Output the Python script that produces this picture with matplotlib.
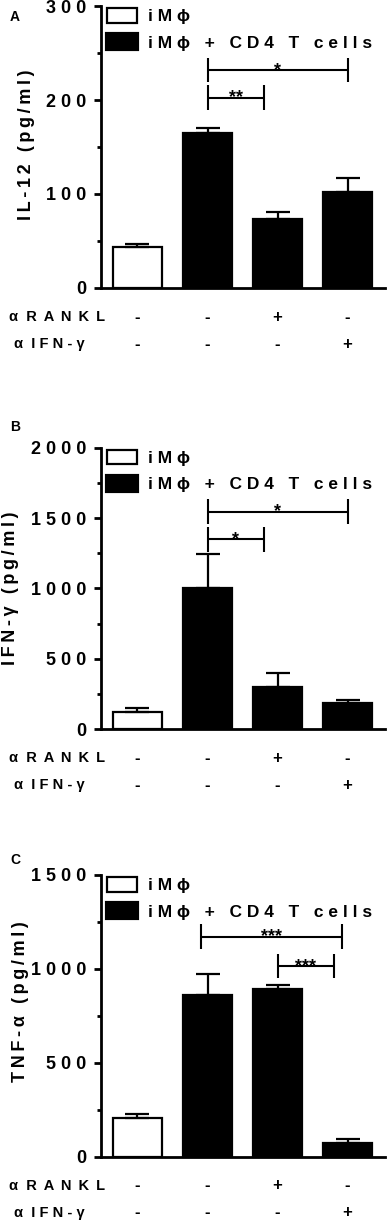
import matplotlib as mpl
mpl.use('Agg')
import matplotlib.pyplot as plt
from matplotlib.patches import Patch
from matplotlib.ticker import MultipleLocator

plt.rcParams['font.family'] = ['Liberation Sans', 'DejaVu Sans']
plt.rcParams['font.weight'] = 'bold'

# data
groups = ['iMϕ', 'iMϕ + CD4 T cells']
rankl = ['-', '-', '+', '-']
ifng = ['-', '-', '-', '+']

il12 = [44, 164.5, 73, 102.5]
il12_err = [2.5, 5.5, 8, 14]
ifn = [125, 1001, 303, 189]
ifn_err = [24, 242, 99, 19]
tnf = [208, 861, 891, 71]
tnf_err = [19, 112, 23, 25]

# significance brackets: (x1, x2, y, stars)
il12_sig = [(1.0, 3.0, 232, '*'), (1.0, 1.8, 202.5, '**')]
ifn_sig = [(1.0, 3.0, 1546, '*'), (1.0, 1.8, 1349, '*')]
tnf_sig = [(0.9, 2.92, 1172, '***'), (2.0, 2.8, 1015, '***')]


def spaced(s, sep=' '):
    return sep.join(s)


panels = [
    ('A', 'IL-12 (pg/ml)', il12, il12_err, il12_sig, 300, 100, 50,
     [0.261, 0.7649, 0.734, 0.2302], (-0.264, 0.509), 1 - 17 / 1225),
    ('B', 'IFN-γ (pg/ml)', ifn, ifn_err, ifn_sig, 2000, 500, 250,
     [0.261, 0.4047, 0.734, 0.2299], (-0.320, 0.50), 1 - 427 / 1225),
    ('C', 'TNF-α (pg/ml)', tnf, tnf_err, tnf_sig, 1500, 500, 250,
     [0.261, 0.0558, 0.734, 0.2300], (-0.282, 0.549), 1 - 860 / 1225),
]

fig = plt.figure(figsize=(3.87, 12.25), dpi=100)
x = list(range(4))
colors = ['white', 'black', 'black', 'black']

for letter, ylab, vals, errs, sig, ymax, major, minor, pos, lab_xy, let_y in panels:
    ax = fig.add_axes(pos)
    ax.bar(x, vals, width=0.7, color=colors, edgecolor='black', linewidth=1.6, zorder=2)
    ax.errorbar(x, vals, yerr=[[0] * 4, errs], fmt='none', ecolor='black',
                elinewidth=1.6, capsize=8.3, capthick=1.6, zorder=3)
    ax.set_xlim(-0.521, 3.536)
    ax.set_ylim(0, ymax)
    ax.yaxis.set_major_locator(MultipleLocator(major))
    ax.yaxis.set_minor_locator(MultipleLocator(minor))
    ticks = list(range(0, ymax + 1, major))
    ax.set_yticks(ticks)
    ax.set_yticklabels([spaced(str(t)) for t in ticks], fontsize=13, fontweight='bold')
    ax.tick_params(axis='y', which='major', length=5, width=2, pad=5.5)
    ax.tick_params(axis='y', which='minor', length=3, width=2)
    ax.set_xticks([])
    for side in ['top', 'right']:
        ax.spines[side].set_visible(False)
    for side in ['left', 'bottom']:
        ax.spines[side].set_linewidth(2)

    ax.text(lab_xy[0], lab_xy[1], spaced(ylab, '\u2009'), transform=ax.transAxes,
            rotation=90, ha='center', va='center', fontsize=13, fontweight='bold')

    # significance brackets
    h = 0.044 * ymax
    for x1, x2, y, stars in sig:
        ax.plot([x1, x2], [y, y], color='black', lw=1.5, solid_capstyle='butt')
        ax.plot([x1, x1], [y - h, y + h], color='black', lw=1.5, solid_capstyle='butt')
        ax.plot([x2, x2], [y - h, y + h], color='black', lw=1.5, solid_capstyle='butt')
        ax.annotate(stars, ((x1 + x2) / 2, y), xytext=(0, -3.4), textcoords='offset points',
                    ha='center', va='baseline', fontsize=13, fontweight='bold')

    # treatment rows
    ax.text(-0.324, -0.103, 'α  ' + spaced('RANKL', ' \u2009'), transform=ax.transAxes,
            ha='left', va='center', fontsize=10.5, fontweight='bold')
    ax.text(-0.306, -0.199, 'α  ' + spaced('IFN-γ'), transform=ax.transAxes,
            ha='left', va='center', fontsize=10.5, fontweight='bold')
    for i in x:
        ax.annotate(rankl[i], (i, 0), xycoords=('data', 'axes fraction'), xytext=(i, -0.103),
                    textcoords=('data', 'axes fraction'), ha='center', va='center',
                    fontsize=12, fontweight='bold')
        ax.annotate(ifng[i], (i, 0), xycoords=('data', 'axes fraction'), xytext=(i, -0.199),
                    textcoords=('data', 'axes fraction'), ha='center', va='center',
                    fontsize=12, fontweight='bold')

    handles = [Patch(facecolor='white', edgecolor='black', linewidth=1.6),
               Patch(facecolor='black', edgecolor='black', linewidth=3)]
    ax.legend(handles, [spaced(g) for g in groups], loc='upper left',
              bbox_to_anchor=(0.021, 0.993), frameon=False, borderpad=0, borderaxespad=0,
              handlelength=1.73, handleheight=0.92, handletextpad=0.63, labelspacing=0.58,
              prop={'size': 12.5, 'weight': 'bold'})

    fig.text(15 / 387, let_y, letter, ha='center', va='center', fontsize=10, fontweight='bold')

fig.savefig('out.png', dpi=100)
